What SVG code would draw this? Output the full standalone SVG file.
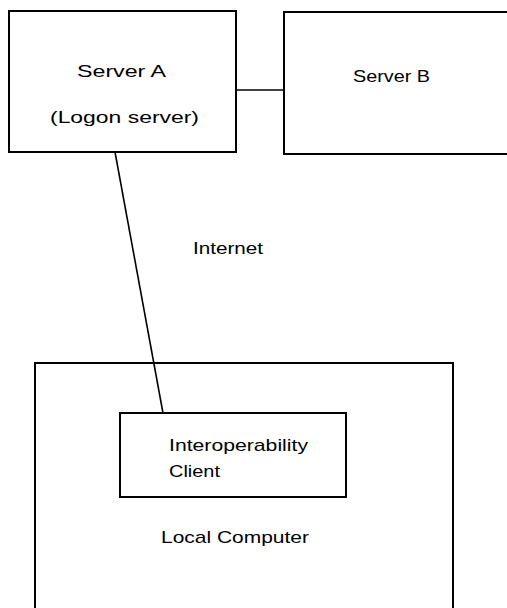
<svg xmlns="http://www.w3.org/2000/svg" width="507" height="608" viewBox="0 0 507 608">
<style>
.box{fill:#fff;stroke:#000;stroke-width:2}
.ln{stroke:#000;stroke-width:1.6;fill:none}
text{font-family:"Liberation Sans",Arial,sans-serif;font-size:17px;fill:#000}
</style>
<rect width="507" height="608" fill="#fff"/>
<g id="local-computer">
<rect class="box" x="35" y="363" width="418" height="260"/>
<text x="161" y="543" textLength="148" lengthAdjust="spacingAndGlyphs">Local Computer</text>
</g>
<g id="server-a">
<rect class="box" x="9" y="11" width="227" height="141"/>
<text x="77" y="77" textLength="89" lengthAdjust="spacingAndGlyphs">Server A</text>
<text x="50" y="123" textLength="149" lengthAdjust="spacingAndGlyphs">(Logon server)</text>
</g>
<g id="server-b">
<rect class="box" x="284" y="12" width="240" height="142"/>
<text x="353" y="82" textLength="77" lengthAdjust="spacingAndGlyphs">Server B</text>
</g>
<g id="client">
<rect class="box" x="120" y="413" width="226" height="84"/>
<text x="169" y="451" textLength="139" lengthAdjust="spacingAndGlyphs">Interoperability</text>
<text x="169" y="477" textLength="51" lengthAdjust="spacingAndGlyphs">Client</text>
</g>
<g id="connectors">
<line class="ln" x1="236" y1="90" x2="284" y2="90"/>
<line class="ln" x1="115" y1="152" x2="163" y2="413"/>
</g>
<text x="193" y="254" textLength="70" lengthAdjust="spacingAndGlyphs">Internet</text>
</svg>
